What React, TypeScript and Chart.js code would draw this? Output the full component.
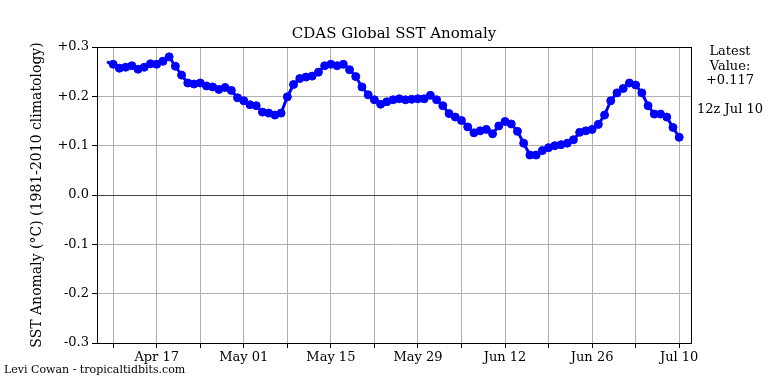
import React, { useEffect, useRef } from "react";
import { Chart, registerables } from "chart.js";

Chart.register(...registerables);

// Daily values starting Apr 9 (day -1 relative to Apr 10)
const firstDay = -1;
const sstValues = [
  0.270, 0.265, 0.257, 0.259, 0.262, 0.255, 0.259, 0.266, 0.265, 0.271,
  0.280, 0.261, 0.243, 0.227, 0.225, 0.227, 0.221, 0.219, 0.214, 0.218,
  0.212, 0.197, 0.191, 0.183, 0.181, 0.168, 0.166, 0.162, 0.166, 0.199,
  0.224, 0.236, 0.239, 0.241, 0.249, 0.262, 0.265, 0.262, 0.265, 0.254,
  0.240, 0.219, 0.203, 0.193, 0.184, 0.189, 0.193, 0.195, 0.193, 0.194,
  0.195, 0.195, 0.202, 0.193, 0.181, 0.165, 0.158, 0.151, 0.138, 0.126,
  0.130, 0.133, 0.124, 0.140, 0.149, 0.144, 0.129, 0.105, 0.081, 0.081,
  0.090, 0.096, 0.100, 0.102, 0.105, 0.112, 0.127, 0.130, 0.133, 0.143,
  0.162, 0.191, 0.207, 0.216, 0.227, 0.223, 0.207, 0.181, 0.164, 0.164,
  0.158, 0.137, 0.117,
];

const xTickDays = [0, 7, 14, 21, 28, 35, 42, 49, 56, 63, 70, 77, 84, 91];
const xTickLabels = [
  "", "Apr 17", "", "May 01", "", "May 15", "", "May 29", "", "Jun 12", "", "Jun 26", "", "Jul 10",
];
const yTickValues = [-0.3, -0.2, -0.1, 0, 0.1, 0.2, 0.3];
const yTickLabels = ["-0.3", "-0.2", "-0.1", "0.0", "+0.1", "+0.2", "+0.3"];

const titleText = "CDAS Global SST Anomaly";
const yTitleText = "SST Anomaly (\u00b0C) (1981-2010 climatology)";
const sideNoteLines = ["Latest", "Value:", "+0.117", "", "12z Jul 10"];
const creditText = "Levi Cowan - tropicaltidbits.com";

const SERIF = "'DejaVu Serif', serif";

const overlayPlugin = {
  id: "overlay",
  afterDraw(chart: any) {
    const { ctx, chartArea } = chart;
    const { left, right, top, bottom } = chartArea;
    ctx.save();
    // frame
    ctx.strokeStyle = "#000";
    ctx.lineWidth = 1;
    ctx.strokeRect(Math.round(left) + 0.5, Math.round(top) + 0.5, Math.round(right - left), Math.round(bottom - top));
    // title
    ctx.fillStyle = "#000";
    ctx.font = `15px ${SERIF}`;
    ctx.textAlign = "center";
    ctx.textBaseline = "alphabetic";
    ctx.fillText(titleText, (left + right) / 2, 38);
    // y title
    ctx.save();
    ctx.translate(37, (top + bottom) / 2);
    ctx.rotate(-Math.PI / 2);
    ctx.font = `14px ${SERIF}`;
    ctx.textAlign = "center";
    ctx.textBaseline = "middle";
    ctx.fillText(yTitleText, 0, 0);
    ctx.restore();
    // side note
    ctx.font = `13px ${SERIF}`;
    ctx.textAlign = "center";
    ctx.textBaseline = "middle";
    sideNoteLines.forEach((l, i) => {
      if (l) ctx.fillText(l, 730, 52 + i * 14.5);
    });
    // credit
    ctx.font = `11px ${SERIF}`;
    ctx.textAlign = "left";
    ctx.textBaseline = "middle";
    ctx.fillText(creditText, 4, 370);
    ctx.restore();
  },
};

export default function App() {
  const ref = useRef<HTMLCanvasElement>(null);
  useEffect(() => {
    if (!ref.current) return;
    const points = sstValues.map((v, i) => ({ x: firstDay + i, y: v }));
    const chart = new Chart(ref.current, {
      type: "line",
      data: {
        datasets: [
          {
            data: points,
            borderColor: "#0000ff",
            backgroundColor: "#0000ff",
            borderWidth: 3,
            pointRadius: sstValues.map((_, i) => (i === 0 ? 0 : 4)),
            pointBorderWidth: 1,
            pointBackgroundColor: "#0000ff",
            pointBorderColor: "#0000ff",
            tension: 0,
          },
        ],
      },
      options: {
        responsive: false,
        animation: false,
        devicePixelRatio: 1,
        layout: { padding: { left: 0, top: 47, right: 77, bottom: 0 } },
        plugins: { legend: { display: false }, tooltip: { enabled: false }, title: { display: false } },
        scales: {
          x: {
            type: "linear",
            min: -2.6,
            max: 92.9,
            afterBuildTicks: (scale: any) => {
              scale.ticks = xTickDays.map((v) => ({ value: v }));
            },
            afterFit: (scale: any) => {
              scale.height = 41;
            },
            ticks: {
              autoSkip: false,
              maxRotation: 0,
              padding: 2,
              color: "#000",
              font: { family: SERIF, size: 13 },
              callback: (v: any) => {
                const idx = xTickDays.indexOf(Number(v));
                return idx >= 0 ? xTickLabels[idx] : "";
              },
            },
            grid: { color: "#b0b0b0", lineWidth: 1, tickLength: 5, tickColor: "#000", drawTicks: true },
            border: { display: true, color: "#000" },
          },
          y: {
            min: -0.3,
            max: 0.3,
            afterBuildTicks: (scale: any) => {
              scale.ticks = yTickValues.map((v) => ({ value: v }));
            },
            afterFit: (scale: any) => {
              scale.width = 97;
            },
            ticks: {
              padding: 3,
              color: "#000",
              font: { family: SERIF, size: 13 },
              callback: (v: any) => {
                const idx = yTickValues.findIndex((t) => Math.abs(t - Number(v)) < 1e-6);
                return idx >= 0 ? yTickLabels[idx] : "";
              },
            },
            grid: {
              color: (c: any) => (c.tick && Math.abs(c.tick.value) < 1e-6 ? "#444" : "#b0b0b0"),
              lineWidth: 1,
              tickLength: 5,
              tickColor: "#000",
            },
            border: { display: true, color: "#000" },
          },
        },
      },
      plugins: [overlayPlugin],
    });
    return () => chart.destroy();
  }, []);
  return (
    <div style={{ position: "fixed", left: 0, top: 0, width: 768, height: 384, background: "#fff" }}>
      <canvas ref={ref} width={768} height={384} />
    </div>
  );
}
